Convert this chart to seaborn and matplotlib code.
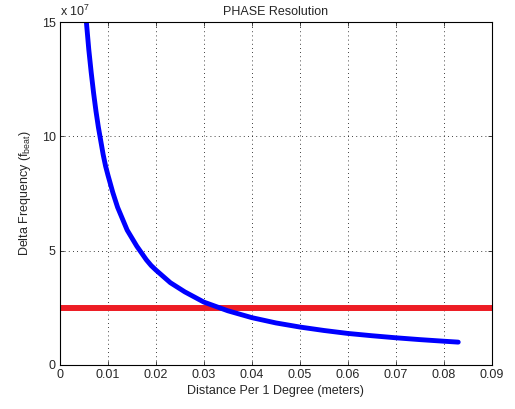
import numpy as np
import pandas as pd
import matplotlib
matplotlib.use('Agg')
import matplotlib.pyplot as plt
import seaborn as sns

# distance per degree (m) vs delta frequency (x 1e7 Hz)
distance = [0.0055, 0.006, 0.0065, 0.007, 0.0075, 0.008, 0.0085, 0.009, 0.0095, 0.010,
            0.011, 0.012, 0.013, 0.014, 0.015, 0.016, 0.017, 0.018, 0.019, 0.020,
            0.023, 0.026, 0.030, 0.035, 0.040, 0.045, 0.050, 0.055, 0.060,
            0.065, 0.070, 0.075, 0.080, 0.083]
delta_freq = [15.0, 13.8, 12.8, 11.9, 11.1, 10.4, 9.8, 9.2, 8.7, 8.3,
              7.55, 6.9, 6.4, 5.9, 5.55, 5.2, 4.9, 4.6, 4.35, 4.15,
              3.6, 3.2, 2.75, 2.37, 2.07, 1.84, 1.66, 1.51, 1.38,
              1.28, 1.19, 1.11, 1.04, 1.0]
delta_freq = [v * 1e7 for v in delta_freq]

limit_x = [0.0, 0.09]
limit_y = [2.5e7, 2.5e7]

x_ticks = [0, 0.01, 0.02, 0.03, 0.04, 0.05, 0.06, 0.07, 0.08, 0.09]
x_tick_labels = ['0', '0.01', '0.02', '0.03', '0.04', '0.05', '0.06', '0.07', '0.08', '0.09']
y_ticks = [0, 5e7, 10e7, 15e7]
y_tick_labels = ['0', '5', '10', '15']

sns.set_style('ticks')
plt.rcParams['font.family'] = ['Liberation Sans', 'DejaVu Sans']
plt.rcParams['mathtext.fontset'] = 'custom'
plt.rcParams['mathtext.rm'] = 'Liberation Sans'
plt.rcParams['mathtext.it'] = 'Liberation Sans'

fig = plt.figure(figsize=(5.15, 4.09), dpi=100)
ax = fig.add_axes([0.1165, 0.1076, 0.8385, 0.8384])

curve = pd.DataFrame({'distance': distance, 'freq': delta_freq})
limit = pd.DataFrame({'distance': limit_x, 'freq': limit_y})

sns.lineplot(data=limit, x='distance', y='freq', color='#ed1c24', linewidth=4.3, ax=ax)
sns.lineplot(data=curve, x='distance', y='freq', color='#0000ff', linewidth=3.5, sort=False, ax=ax)

ax.set_xlim(0, 0.09)
ax.set_ylim(0, 15e7)
ax.set_xticks(x_ticks)
ax.set_xticklabels(x_tick_labels, fontsize=9)
ax.set_yticks(y_ticks)
ax.set_yticklabels(y_tick_labels, fontsize=9)
ax.minorticks_off()
ax.tick_params(direction='in', length=3, width=0.6, top=True, right=True, pad=3)
ax.grid(True, color='black', linestyle=(0, (1, 4)), linewidth=0.6)
for s in ax.spines.values():
    s.set_linewidth(0.8)
    s.set_color('black')

ax.set_title('PHASE Resolution', fontsize=9, pad=5)
ax.set_xlabel('Distance Per 1 Degree (meters)', fontsize=9, labelpad=3)
ax.set_ylabel('Delta Frequency (f$_{\\mathrm{beat}}$)', fontsize=9, labelpad=6)
ax.text(0.0, 1.01, 'x 10$^{\\mathrm{7}}$', transform=ax.transAxes, fontsize=9, ha='left', va='bottom')

fig.savefig('out.png', dpi=100, facecolor='white')
